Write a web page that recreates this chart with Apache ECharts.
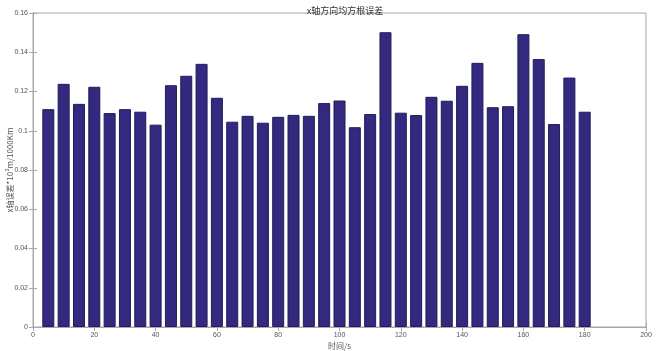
<!DOCTYPE html>
<html>
<head>
<meta charset="utf-8">
<script src="https://cdn.jsdelivr.net/npm/echarts@6/dist/echarts.min.js"></script>
<style>html,body{margin:0;padding:0;background:#fff;}#c{width:656px;height:351px;}</style>
</head>
<body>
<div id="c"></div>
<script>
var times = [5,10,15,20,25,30,35,40,45,50,55,60,65,70,75,80,85,90,95,100,105,110,115,120,125,130,135,140,145,150,155,160,165,170,175,180];
var errors = [0.1110,0.1239,0.1137,0.1224,0.1090,0.1110,0.1097,0.1031,0.1232,0.1280,0.1341,0.1168,0.1046,0.1076,0.1041,0.1071,0.1081,0.1076,0.1141,0.1154,0.1018,0.1085,0.1502,0.1092,0.1080,0.1173,0.1153,0.1229,0.1346,0.1120,0.1125,0.1492,0.1365,0.1034,0.1271,0.1097];
var titleText = 'x轴方向均方根误差';
var xName = '时间/s';
var yName = 'x轴误差*10³m/1000Km';

var chart = echarts.init(document.getElementById('c'));
var data = times.map(function(t,i){return [t, errors[i]];});
var lineC = '#a8a8a8';
var labC = '#555';
chart.setOption({
  animation:false,
  title:{text:titleText,left:340,top:1,textAlign:'center',textStyle:{fontSize:9,fontWeight:'normal',color:'#333',fontFamily:'Noto Sans CJK SC'}},
  grid:{left:33,right:10,top:13,bottom:24,show:true,borderColor:lineC,borderWidth:1,containLabel:false,outerBoundsMode:'none'},
  xAxis:[{
    type:'value',min:0,max:200,interval:20,
    name:xName,nameLocation:'middle',nameGap:15,nameMoveOverlap:false,
    nameTextStyle:{fontSize:8,color:labC,fontFamily:'Noto Sans CJK SC'},
    axisLine:{show:true,lineStyle:{color:lineC}},
    axisTick:{show:true,inside:true,length:4,lineStyle:{color:lineC}},
    axisLabel:{fontSize:7,color:labC,margin:5,fontFamily:'Liberation Sans'},
    splitLine:{show:false}
  },{
    type:'value',min:0,max:200,interval:20,position:'top',
    axisLine:{show:true,lineStyle:{color:lineC}},
    axisTick:{show:true,inside:true,length:4,lineStyle:{color:lineC}},
    axisLabel:{show:false},splitLine:{show:false}
  }],
  yAxis:[{
    type:'value',min:0,max:0.16,interval:0.02,
    name:yName,nameLocation:'middle',nameGap:19.5,nameMoveOverlap:false,
    nameTextStyle:{fontSize:8,color:labC,fontFamily:'Noto Sans CJK SC'},
    axisLine:{show:true,lineStyle:{color:lineC}},
    axisTick:{show:true,inside:true,length:4,lineStyle:{color:lineC}},
    axisLabel:{fontSize:7,color:labC,margin:5,fontFamily:'Liberation Sans'},
    splitLine:{show:false}
  },{
    type:'value',min:0,max:0.16,interval:0.02,position:'right',
    axisLine:{show:true,lineStyle:{color:lineC}},
    axisTick:{show:true,inside:true,length:4,lineStyle:{color:lineC}},
    axisLabel:{show:false},splitLine:{show:false}
  }],
  series:[{
    type:'bar',xAxisIndex:0,yAxisIndex:0,data:data,barWidth:12,
    itemStyle:{color:'#33297f',borderColor:'#221c5a',borderWidth:1}
  }]
});
</script>
</body>
</html>
